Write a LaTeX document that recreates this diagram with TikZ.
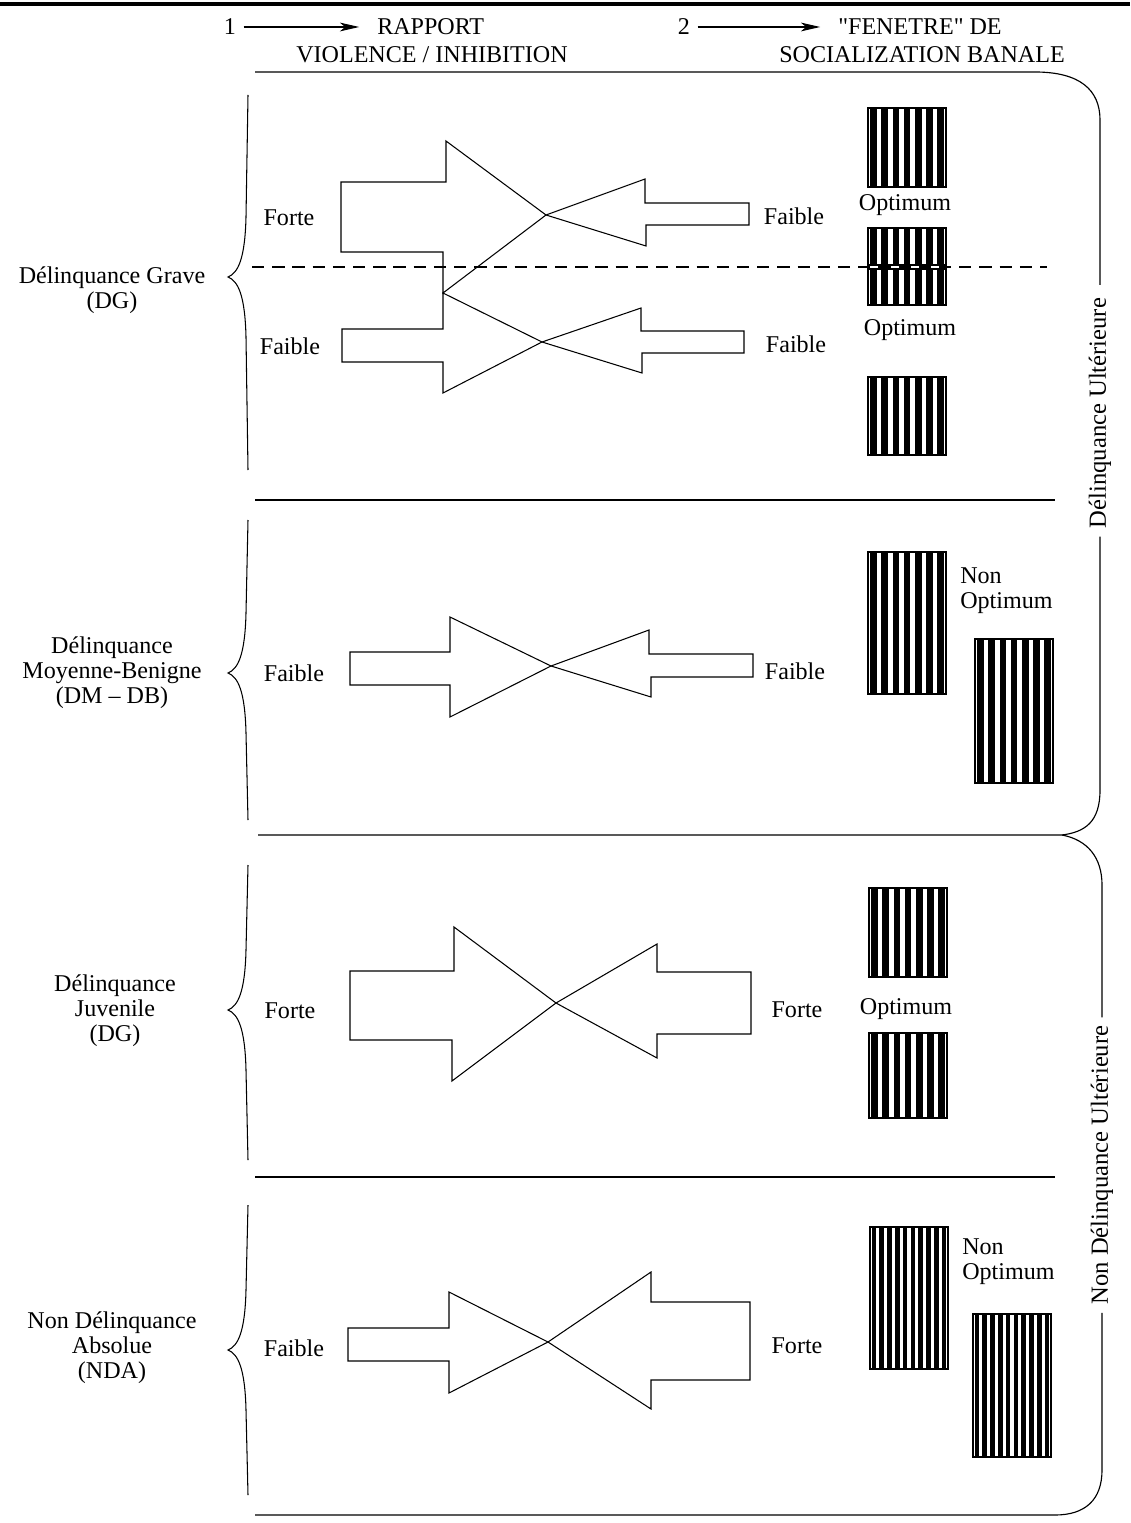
\documentclass[tikz,border=0pt]{standalone}
\usepackage{fontspec}
\setmainfont{Liberation Serif}
\usetikzlibrary{arrows.meta}

\tikzset{
  txt/.style={font=\fontsize{13.7}{14.2}\selectfont, inner sep=1pt, align=center},
  sidetxt/.style={txt, font=\fontsize{14}{15}\selectfont, rotate=90, inner sep=4.5pt},
  hdrarrow/.style={-{Stealth[length=11pt, width=5pt, inset=3pt]}, shorten <=3pt, shorten >=9pt},
  arrowshape/.style={draw, line join=miter},
  seprule/.style={line width=0.65pt}
}

\begin{document}
\begin{tikzpicture}[x=0.02cm, y=-0.02cm, line width=0.6pt]
    \useasboundingbox (0,0) rectangle (1130,1523);

    % header
    \draw[line width=2.2pt] (0,4) -- (1130,4);
    \node[txt] (one) at (230,27) {1};
    \node[txt, anchor=west] (rapport) at (375,27) {RAPPORT};
    \node[txt] (violence) at (432,55) {VIOLENCE / INHIBITION};
    \node[txt] (two) at (684,27) {2};
    \node[txt, anchor=west] (fenetre) at (836,27) {\textquotedbl FENETRE\textquotedbl{} DE};
    \node[txt] (socializ) at (922,55) {SOCIALIZATION BANALE};
    \draw[hdrarrow] (one) -- (rapport);
    \draw[hdrarrow] (two) -- (fenetre);

    % left braces
    \foreach \ya/\ym/\yb in {95/277/470, 520/673/820, 865/1010/1160, 1205/1350/1495}
      \draw (248,\ya) -- (246,{\ym-60}) .. controls (245,{\ym-18}) and (238,{\ym-4}) .. (228,\ym)
            .. controls (238,{\ym+4}) and (245,{\ym+18}) .. (246,{\ym+60}) -- (248,\yb);

    \node[txt] (dg) at (112,290) {Délinquance Grave\\(DG)};
    \node[txt] (dmdb) at (112,673) {Délinquance\\Moyenne-Benigne\\(DM -- DB)};
    \node[txt] (djuv) at (115,1011) {Délinquance\\Juvenile\\(DG)};
    \node[txt] (nda) at (112,1348) {Non Délinquance\\Absolue\\(NDA)};

    % section rules and right braces
    \draw[seprule] (255,72) -- (1035,72) .. controls (1080,72) and (1100,90) .. (1100,120) -- (1100,285);
    \node[sidetxt] (dul) at (1100,413) {Délinquance Ultérieure};
    \node[sidetxt] (ndul) at (1102,1165) {Non Délinquance Ultérieure};
    \draw[seprule] (dul.west) -- (1100,790) .. controls (1100,822) and (1085,832) .. (1062,835);
    \draw[seprule] (258,835) -- (1062,835) .. controls (1088,840) and (1102,858) .. (1102,885) -- (ndul.east);
    \draw[seprule] (ndul.west) -- (1102,1470) .. controls (1102,1500) and (1085,1515) .. (1055,1515) -- (255,1515);
    \draw[seprule] (255,500) -- (1055,500);
    \draw[seprule] (255,1177) -- (1055,1177);
    \draw[dash pattern=on 7pt off 4.5pt] (252,267) -- (1047,267);

    % arrows, section 1
    \draw[arrowshape] (341,182) -- (446,182) -- (446,141) -- (546,215) -- (443,293) -- (443,252) -- (341,252) -- cycle;
    \draw[arrowshape] (342,329) -- (443,329) -- (443,293) -- (542,342) -- (443,393) -- (443,362) -- (342,362) -- cycle;
    \draw[arrowshape] (546,215) -- (645,179) -- (645,203) -- (749,203) -- (749,225) -- (646,225) -- (646,246) -- cycle;
    \draw[arrowshape] (542,342) -- (641,308) -- (641,331) -- (744,331) -- (744,353) -- (642,353) -- (642,373) -- cycle;
    % section 2
    \draw[arrowshape] (350,652) -- (450,652) -- (450,617) -- (551,666) -- (450,717) -- (450,685) -- (350,685) -- cycle;
    \draw[arrowshape] (551,666) -- (649,630) -- (649,654) -- (753,654) -- (753,677) -- (651,677) -- (651,697) -- cycle;
    % section 3
    \draw[arrowshape] (350,971) -- (454,971) -- (454,927) -- (556,1003) -- (452,1081) -- (452,1040) -- (350,1040) -- cycle;
    \draw[arrowshape] (556,1003) -- (657,944) -- (657,972) -- (751,972) -- (751,1034) -- (657,1034) -- (657,1058) -- cycle;
    % section 4
    \draw[arrowshape] (348,1328) -- (449,1328) -- (449,1292) -- (548,1342) -- (449,1393) -- (449,1361) -- (348,1361) -- cycle;
    \draw[arrowshape] (548,1342) -- (651,1272) -- (651,1302) -- (750,1302) -- (750,1380) -- (651,1380) -- (651,1409) -- cycle;

    \foreach \Point/\Word [count=\i] in {
      (289,218)/Forte,
      (794,216)/Faible,
      (290,346)/Faible,
      (796,344)/Faible,
      (294,673)/Faible,
      (795,671)/Faible,
      (290,1011)/Forte,
      (797,1010)/Forte,
      (294,1348)/Faible,
      (797,1346)/Forte%
    }
    \node[txt] (word\i) at \Point {\Word};

    % socialization windows
    \foreach \xa/\ya/\yb/\n in {
      868/108/187/7,
      868/228/265/7,
      868/269/305/7,
      868/377/455/7,
      868/552/694/7,
      975/639/783/7,
      869/888/977/7,
      869/1033/1118/7,
      870/1227/1369/10,
      973/1314/1457/10%
    }{
      \draw (\xa,\ya) rectangle ++(78,{\yb-\ya});
      \pgfmathsetmacro\stp{78/\n}
      \foreach \k in {1,...,\n}
        \fill ({\xa+(\k-0.8)*\stp},\ya) rectangle ({\xa+(\k-0.2)*\stp},\yb);
    }

    \node[txt] (opt1) at (905,205) {Optimum};
    \node[txt] (opt2) at (910,330) {Optimum};
    \node[txt] (opt3) at (906,1009) {Optimum};
    \node[txt, anchor=west, align=left] (nonopt1) at (958,591) {Non\\Optimum};
    \node[txt, anchor=west, align=left] (nonopt2) at (960,1262) {Non\\Optimum};

  \end{tikzpicture}
\end{document}
